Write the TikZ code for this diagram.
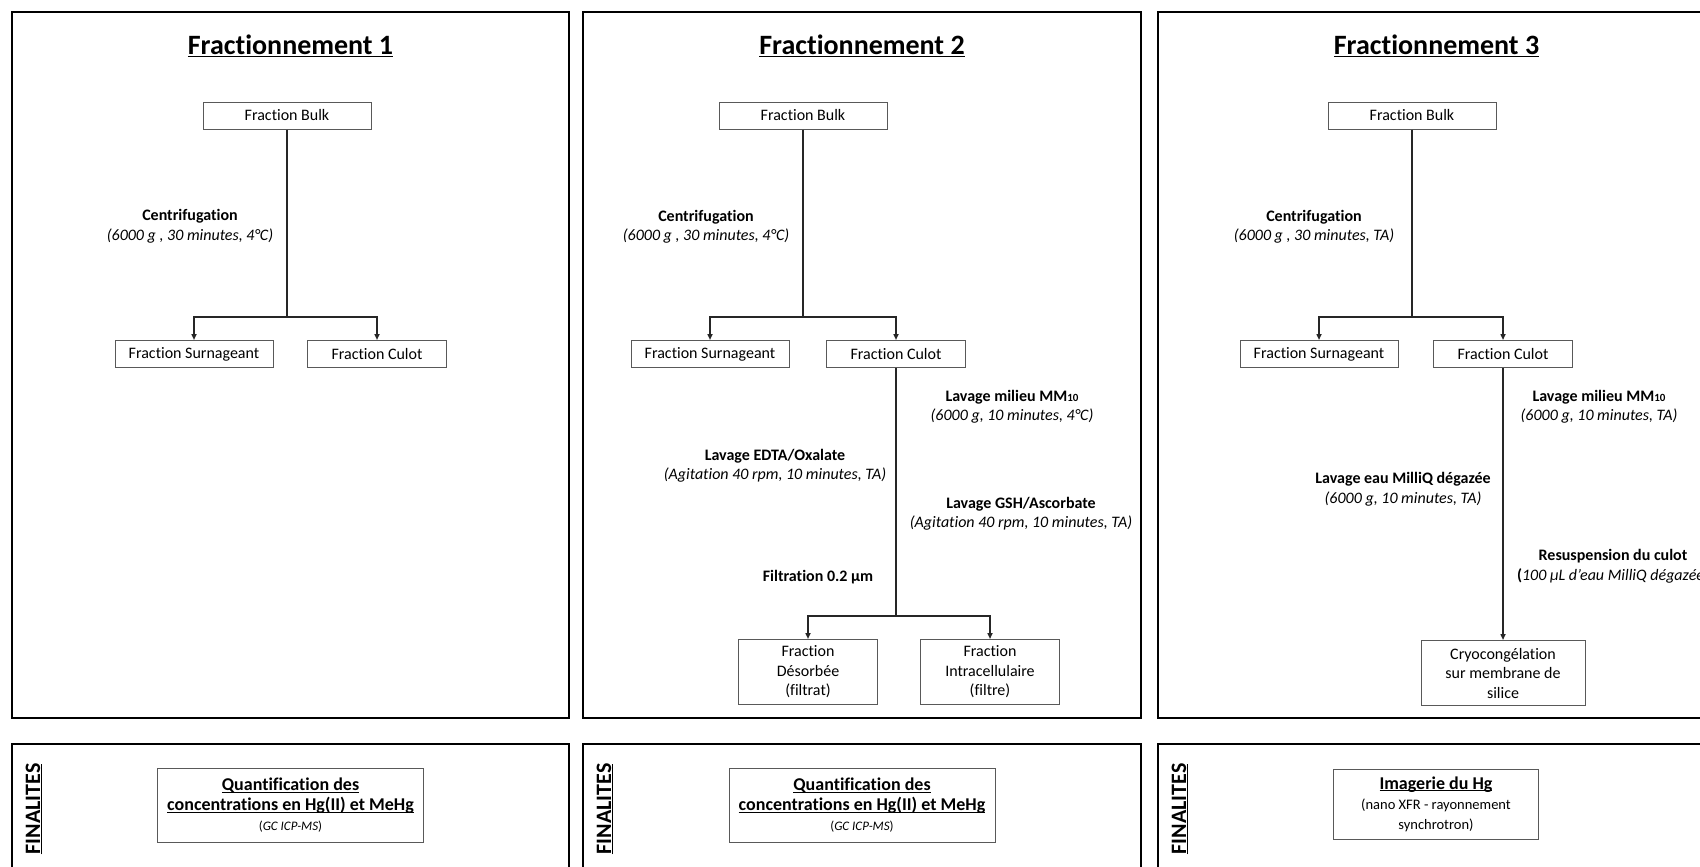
\documentclass[tikz,border=0pt]{standalone}
\usepackage{fontspec}
\setmainfont{Carlito}[Ligatures=NoCommon]
\usetikzlibrary{arrows.meta}

\newcommand{\ulsmash}[1]{\underline{\raisebox{0pt}[\height][0pt]{#1}}}
\newcommand{\finsub}{\fontsize{14.5}{20}\selectfont}
\newcommand{\subten}{{\fontsize{11}{12}\selectfont 10}}

\tikzset{
  panel/.style={draw=black, line width=2.6pt},
  fracbox/.style={draw=black!65, line width=1pt, inner sep=0pt,
    minimum height=27pt, align=center, font=\fontsize{16}{19.5}\selectfont},
  finbox/.style={fracbox, font=\fontsize{18}{20}\selectfont},
  link/.style={draw=black!85, line width=1.5pt},
  arrowlink/.style={link, -{Triangle[length=6pt,width=5pt]}},
  steplabel/.style={align=center, inner sep=0pt, font=\fontsize{16}{19.5}\selectfont},
  paneltitle/.style={font=\fontsize{28}{32}\selectfont\bfseries},
  finlabel/.style={rotate=90, font=\fontsize{22}{24}\selectfont\bfseries}
}

\begin{document}
\begin{tikzpicture}[x=1pt,y=-1pt]
\useasboundingbox (0,0) rectangle (1700,867);
\clip (0,0) rectangle (1700,867);
%\draw[help lines, step=50] (0,0) grid (1700,867);
\draw[panel] (12,12) rectangle (569,718);
\draw[panel] (583,12) rectangle (1141,718);
\draw[panel] (1158,12) rectangle (1730,718);
\draw[panel] (12,744) rectangle (569,900);
\draw[panel] (583,744) rectangle (1141,900);
\draw[panel] (1158,744) rectangle (1730,900);

% Fractionnement 1
\node[paneltitle] (titleA) at (290.5,46) {\ulsmash{Fractionnement 1}};
\node[fracbox, minimum width=168pt] (bulkA) at (287,115.5) {Fraction Bulk};
\node[fracbox, minimum width=158pt] (surnA) at (194,354) {Fraction Surnageant};
\node[fracbox, minimum width=139pt] (culotA) at (377,354) {Fraction Culot};
\coordinate (jA) at (287,317);
\draw[link] (bulkA) -- (jA);
\draw[arrowlink] (jA) -| (surnA);
\draw[arrowlink] (jA) -| (culotA);
\node[steplabel] (centA) at (190,226.5)
  {\textbf{Centrifugation}\\ \textit{(6000 g , 30 minutes, 4°C)}};

% Fractionnement 2
\node[paneltitle] (titleB) at (862,46) {\ulsmash{Fractionnement 2}};
\node[fracbox, minimum width=168pt] (bulkB) at (803,115.5) {Fraction Bulk};
\node[fracbox, minimum width=158pt] (surnB) at (710,354) {Fraction Surnageant};
\node[fracbox, minimum width=139pt] (culotB) at (896,354) {Fraction Culot};
\coordinate (jB) at (803,317);
\draw[link] (bulkB) -- (jB);
\draw[arrowlink] (jB) -| (surnB);
\draw[arrowlink] (jB) -| (culotB);
\node[steplabel] (centB) at (706,227)
  {\textbf{Centrifugation}\\ \textit{(6000 g , 30 minutes, 4°C)}};
\node[fracbox, minimum width=139pt, minimum height=65pt] (desB) at (808,672)
  {Fraction\\ Désorbée\\ (filtrat)};
\node[fracbox, minimum width=139pt, minimum height=65pt] (intraB) at (990,672)
  {Fraction\\ Intracellulaire\\ (filtre)};
\coordinate (jB2) at (896,616);
\draw[link] (culotB) -- (jB2);
\draw[arrowlink] (jB2) -| (desB);
\draw[arrowlink] (jB2) -| (intraB);
\node[steplabel] (mmB) at (1012,407)
  {\textbf{Lavage milieu MM\subten}\\ \textit{(6000 g, 10 minutes, 4°C)}};
\node[steplabel] (edtaB) at (775,466)
  {\textbf{Lavage EDTA/Oxalate}\\ \textit{(Agitation 40 rpm, 10 minutes, TA)}};
\node[steplabel] (gshB) at (1021,514)
  {\textbf{Lavage GSH/Ascorbate}\\ \textit{(Agitation 40 rpm, 10 minutes, TA)}};
\node[steplabel] (filtB) at (818,577) {\textbf{Filtration 0.2 µm}};

% Fractionnement 3
\node[paneltitle] (titleC) at (1436.5,46) {\ulsmash{Fractionnement 3}};
\node[fracbox, minimum width=168pt] (bulkC) at (1412,115.5) {Fraction Bulk};
\node[fracbox, minimum width=158pt] (surnC) at (1319,354) {Fraction Surnageant};
\node[fracbox, minimum width=139pt] (culotC) at (1503,354) {Fraction Culot};
\coordinate (jC) at (1412,317);
\draw[link] (bulkC) -- (jC);
\draw[arrowlink] (jC) -| (surnC);
\draw[arrowlink] (jC) -| (culotC);
\node[steplabel] (centC) at (1314,227)
  {\textbf{Centrifugation}\\ \textit{(6000 g , 30 minutes, TA)}};
\node[fracbox, minimum width=164pt, minimum height=65pt] (cryoC) at (1503,673)
  {Cryocongélation\\ sur membrane de\\ silice};
\draw[arrowlink] (culotC) -- (cryoC);
\node[steplabel] (mmC) at (1599,407)
  {\textbf{Lavage milieu MM\subten}\\ \textit{(6000 g, 10 minutes, TA)}};
\node[steplabel] (eauC) at (1403,489.5)
  {\textbf{Lavage eau MilliQ dégazée}\\ \textit{(6000 g, 10 minutes, TA)}};
\node[steplabel] (resC) at (1613,566.5)
  {\textbf{Resuspension du culot}\\ \textbf{(}\textit{100 µL d’eau MilliQ dégazée)}};

% Finalites
\node[finlabel] (finA) at (34,809) {\ulsmash{FINALITES}};
\node[finlabel] (finB) at (605,809) {\ulsmash{FINALITES}};
\node[finlabel] (finC) at (1180,809) {\ulsmash{FINALITES}};
\node[finbox, minimum width=266pt, minimum height=74pt] (quantA) at (290.5,805)
  {\textbf{\ulsmash{Quantification des}}\\
   \textbf{\ulsmash{concentrations en Hg(II) et MeHg}}\\
   {\fontsize{13}{14}\selectfont(\textit{GC ICP-MS})}};
\node[finbox, minimum width=266pt, minimum height=74pt] (quantB) at (862,805)
  {\textbf{\ulsmash{Quantification des}}\\
   \textbf{\ulsmash{concentrations en Hg(II) et MeHg}}\\
   {\fontsize{13}{14}\selectfont(\textit{GC ICP-MS})}};
\node[finbox, minimum width=205pt, minimum height=70pt] (imgC) at (1436,804)
  {\textbf{\ulsmash{Imagerie du Hg}}\\
   {\finsub(nano XFR - rayonnement}\\
   {\finsub synchrotron)}};
\end{tikzpicture}
\end{document}
